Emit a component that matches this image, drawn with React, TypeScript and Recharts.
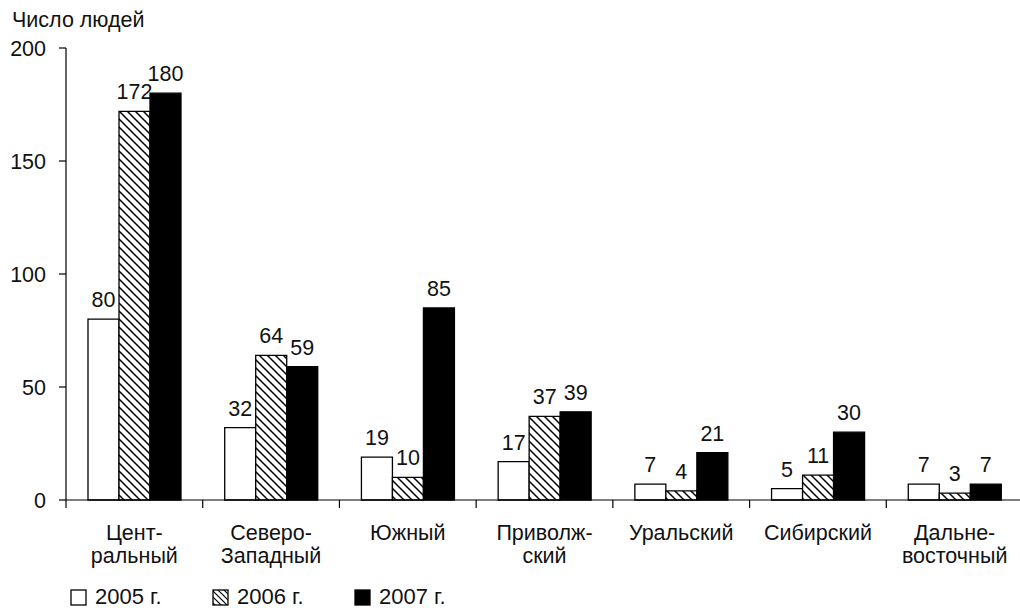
import { BarChart, Bar, XAxis, YAxis, LabelList } from 'recharts';

const regions = [
  ['Цент-', 'ральный'],
  ['Северо-', 'Западный'],
  ['Южный'],
  ['Приволж-', 'ский'],
  ['Уральский'],
  ['Сибирский'],
  ['Дальне-', 'восточный'],
];
const y2005 = [80, 32, 19, 17, 7, 5, 7];
const y2006 = [172, 64, 10, 37, 4, 11, 3];
const y2007 = [180, 59, 85, 39, 21, 30, 7];
const yTicks = [0, 50, 100, 150, 200];
const seriesNames = ['2005 г.', '2006 г.', '2007 г.'];

const FONT = '"Liberation Sans", Arial, sans-serif';
const FS = 21.5;
const CHART_W = 1023;
const AXIS_W = 66;
const BAND = (CHART_W - AXIS_W) / regions.length;

const data = regions.map((lines, i) => ({
  name: lines.join('|'),
  a: y2005[i],
  b: y2006[i],
  c: y2007[i],
}));

const CategoryTick = (props: any) => {
  const { x, y, payload } = props;
  const lines = String(payload.value).split('|');
  const left = x - BAND / 2;
  return (
    <g>
      <line x1={left} y1={y} x2={left} y2={y + 8} stroke="#000" strokeWidth={1.2} />
      <text x={x} y={y + 40} textAnchor="middle" fontSize={FS} fontFamily={FONT} fill="#111">
        {lines.map((t, i) => (
          <tspan key={i} x={x} dy={i === 0 ? 0 : 23}>
            {t}
          </tspan>
        ))}
      </text>
    </g>
  );
};

const labelStyle = { fontSize: FS, fontFamily: FONT, fill: '#111' };

export default function App() {
  const legendX = [71, 213, 355];
  const fills = ['#fff', 'url(#hatchL)', '#000'];
  return (
    <div style={{ position: 'absolute', left: 0, top: 0, width: 1020, height: 608, overflow: 'hidden', background: '#fff' }}>
      <BarChart
        width={CHART_W}
        height={608}
        data={data}
        margin={{ top: 48, right: 0, bottom: 0, left: 0 }}
        barCategoryGap={22}
        barGap={0}
      >
        <defs>
          <pattern id="hatch" patternUnits="userSpaceOnUse" width="8" height="8">
            <rect width="8" height="8" fill="#fff" />
            <path d="M-2,-2 L10,10 M-2,6 L2,10 M6,-2 L10,2" stroke="#000" strokeWidth={1.5} />
          </pattern>
        </defs>
        <XAxis
          dataKey="name"
          height={108}
          tickLine={false}
          tickSize={0}
          tickMargin={0}
          axisLine={{ stroke: '#000', strokeWidth: 1.2 }}
          tick={<CategoryTick />}
          interval={0}
        />
        <YAxis
          width={AXIS_W}
          domain={[0, 200]}
          ticks={yTicks}
          tickSize={7}
          tickMargin={13}
          axisLine={{ stroke: '#000', strokeWidth: 1.2 }}
          tickLine={{ stroke: '#000', strokeWidth: 1.2 }}
          tick={{ fontSize: FS, fontFamily: FONT, fill: '#111' }}
        />
        <Bar dataKey="a" fill="#fff" stroke="#000" strokeWidth={1.3} isAnimationActive={false}>
          <LabelList dataKey="a" position="top" offset={12} style={labelStyle} />
        </Bar>
        <Bar dataKey="b" fill="url(#hatch)" stroke="#000" strokeWidth={1.3} isAnimationActive={false}>
          <LabelList dataKey="b" position="top" offset={12} style={labelStyle} />
        </Bar>
        <Bar dataKey="c" fill="#000" stroke="#000" strokeWidth={1.3} isAnimationActive={false}>
          <LabelList dataKey="c" position="top" offset={12} style={labelStyle} />
        </Bar>
      </BarChart>
      <svg width={1020} height={608} style={{ position: 'absolute', left: 0, top: 0, pointerEvents: 'none' }}>
        <defs>
          <pattern id="hatchL" patternUnits="userSpaceOnUse" width="6" height="6">
            <rect width="6" height="6" fill="#fff" />
            <path d="M-2,-2 L8,8 M-2,4 L2,8 M4,-2 L8,2" stroke="#000" strokeWidth={1.2} />
          </pattern>
        </defs>
        <text x={12} y={27} fontSize={FS} fontFamily={FONT} fill="#111">
          Число людей
        </text>
        {seriesNames.map((name, i) => (
          <g key={name}>
            <rect x={legendX[i]} y={590} width={15} height={15} fill={fills[i]} stroke="#000" strokeWidth={1.3} />
            <text x={legendX[i] + 24} y={604} fontSize={22} fontFamily={FONT} fill="#111">
              {name}
            </text>
          </g>
        ))}
      </svg>
    </div>
  );
}
